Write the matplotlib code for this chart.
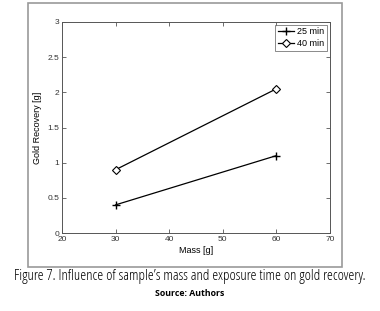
import matplotlib.pyplot as plt
from matplotlib.patches import Rectangle

# datos
mass = [30, 60]
rec_25 = [0.4, 1.1]
rec_40 = [0.9, 2.05]
labels = ['25 min', '40 min']
xticks = [20, 30, 40, 50, 60, 70]
yticks = [0, 0.5, 1, 1.5, 2, 2.5, 3]

plt.rcParams['font.family'] = ['Liberation Sans', 'DejaVu Sans']

fig = plt.figure(figsize=(3.8, 3.11), dpi=100)

# marco gris alrededor del gráfico
fig.add_artist(Rectangle((28 / 380, 1 - 267 / 311), 314 / 380, 264 / 311,
                         transform=fig.transFigure, fill=False,
                         edgecolor='#9a9a9a', linewidth=1.2))

ax = fig.add_axes([62 / 380, 1 - 233 / 311, 268 / 380, 211 / 311])
ax.plot(mass, rec_25, color='black', marker='+', markersize=6, linewidth=0.9, label=labels[0])
ax.plot(mass, rec_40, color='black', marker='D', markersize=4.5, markerfacecolor='white',
        markeredgewidth=0.8, linewidth=0.9, label=labels[1])

ax.set_xlim(20, 70)
ax.set_ylim(0, 3)
ax.set_xticks(xticks)
ax.set_yticks(yticks)
ax.set_yticklabels(['0', '0.5', '1', '1.5', '2', '2.5', '3'])
ax.tick_params(direction='in', top=True, right=True, labelsize=6, length=3,
               width=0.6, color='#555555', labelcolor='#333333', pad=2)
for s in ax.spines.values():
    s.set_color('#555555')
    s.set_linewidth(0.7)
ax.set_xlabel('Mass [g]', fontsize=6.5, labelpad=2)
ax.set_ylabel('Gold Recovery [g]', fontsize=6.5, labelpad=4)

leg = ax.legend(loc='upper right', fontsize=6.5, frameon=True, fancybox=False,
                borderaxespad=0.3, handlelength=1.8, borderpad=0.3, labelspacing=0.3,
                handletextpad=0.4)
leg.get_frame().set_edgecolor('#555555')
leg.get_frame().set_linewidth(0.6)

fig.text(0.5, 1 - 276 / 311, "Figure 7. Influence of sample’s mass and exposure time on gold recovery.",
         ha='center', va='center', fontsize=10.8, family=['Open Sans', 'DejaVu Sans'], stretch='condensed')
fig.text(0.5, 1 - 293 / 311, 'Source: Authors', ha='center', va='center', fontsize=6.3,
         family=['Open Sans', 'DejaVu Sans'], stretch='condensed', weight='bold')

fig.savefig('out.png', dpi=100)
